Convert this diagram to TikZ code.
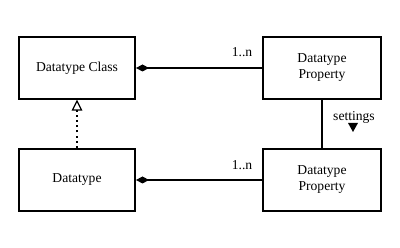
\documentclass[tikz,border=0pt]{standalone}
\usepackage{fontspec}
\setmainfont{Liberation Serif}
\usetikzlibrary{arrows.meta}
\begin{document}
\begin{tikzpicture}[x=1pt,y=-1pt,
  box/.style={draw,line width=2pt,minimum width=116pt,minimum height=62pt,inner sep=0pt,align=center,font=\fontsize{13.6}{16}\selectfont},
  lbl/.style={inner sep=0pt,font=\fontsize{13.6}{16}\selectfont},
  conn/.style={line width=1.6pt}]
\useasboundingbox (0,0) rectangle (400,248);
\node[box] (dc) at (77,68) {Datatype Class};
\node[box,minimum width=118pt] (dp1) at (322,68) {Datatype\\Property};
\node[box] (dt) at (77,180) {Datatype};
\node[box,minimum width=118pt] (dp2) at (322,180) {Datatype\\Property};
\draw[conn,{Diamond[length=13pt,width=7pt]}-] (dc.east) -- (dp1.west);
\draw[conn,{Diamond[length=13pt,width=7pt]}-] (dt.east) -- (dp2.west);
\node[lbl] (m1) at (242,52) {1..n};
\node[lbl] (m2) at (242,165) {1..n};
\draw[line width=1.3pt] (dp1.south) -- (dp2.north);
\node[lbl] (st) at (354,117) {settings};
\coordinate (ta) at (353,123);
\coordinate (tb) at (353,132);
\fill (348,123) -- (358,123) -- (353,132) -- cycle;
\coordinate (dtop) at (77,110);
\draw[line width=2pt,dash pattern=on 2pt off 3.2pt] (dt.north) -- (dtop);
\draw[line width=1.2pt,fill=white] (72.5,110) -- (81.5,110) -- (77,101) -- cycle;
\end{tikzpicture}
\end{document}
